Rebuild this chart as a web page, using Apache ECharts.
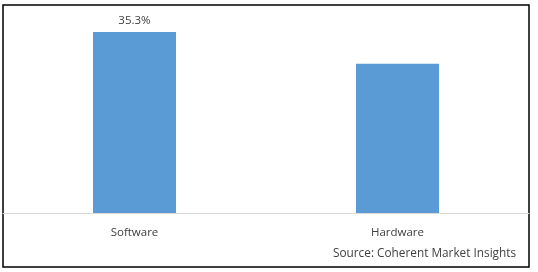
<!DOCTYPE html>
<html><head><meta charset="utf-8">
<script src="https://cdn.jsdelivr.net/npm/echarts@6/dist/echarts.min.js"></script>
<style>html,body{margin:0;padding:0;background:#fff}#c{width:538px;height:272px}</style>
</head><body><div id="c"></div>
<script>
var categories = ["Software", "Hardware"];
var values = [35.3, 29.1];
var labels = ["35.3%", ""];
var sourceText = "Source: Coherent Market Insights";

var chart = echarts.init(document.getElementById('c'), null, {renderer: 'canvas'});
chart.setOption({
  animation: false,
  grid: {left: 3, right: 9, top: 8, bottom: 59, containLabel: false},
  xAxis: {
    type: 'category', data: categories,
    axisLine: {lineStyle: {color: '#d9d9d9', width: 1}},
    axisTick: {show: false},
    axisLabel: {color: '#404040', fontFamily: 'Open Sans', fontSize: 11.5, margin: 14}
  },
  yAxis: {type: 'value', min: 0, max: 40, show: false, splitLine: {show: false}},
  series: [{
    type: 'bar', data: values.map(function(v, i){
      return {value: v, label: {show: labels[i] !== '', formatter: labels[i]}};
    }),
    barWidth: 83,
    itemStyle: {color: '#5b9bd5'},
    label: {position: 'top', distance: 5, color: '#404040', fontFamily: 'Open Sans', fontSize: 11.5}
  }],
  graphic: [
    {type: 'rect', shape: {x: 3, y: 5, width: 526, height: 262}, style: {fill: 'none', stroke: '#000', lineWidth: 1.5}, silent: true},
    {type: 'text', left: 333, top: 248, style: {text: sourceText, fill: '#404040', font: '11.8px "Open Sans"'}}
  ]
});
</script></body></html>
